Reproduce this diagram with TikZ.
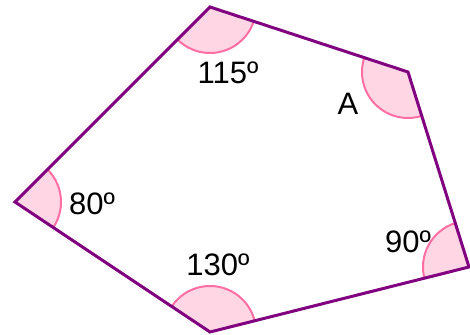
\documentclass[tikz,border=0pt]{standalone}
\usepackage{fontspec}
\setmainfont{Liberation Sans}
\definecolor{EdgePurple}{HTML}{800080}
\definecolor{AnglePink}{HTML}{FFD6E4}
\definecolor{ArcPink}{HTML}{FF6FA3}
\begin{document}
\begin{tikzpicture}[x=0.5pt, y=-0.5pt,
    edge/.style={draw=EdgePurple, line width=1.5pt, line join=miter},
    wedge/.style={fill=AnglePink, draw=ArcPink, line width=1pt},
    lbl/.style={font=\fontsize{15.5}{18}\selectfont, inner sep=0pt}
]
\useasboundingbox (0,0) rectangle (470,335);
\coordinate (top) at (210,7);
\coordinate (rtop) at (408,72);
\coordinate (rbot) at (469,267);
\coordinate (bot) at (210,332);
\coordinate (left) at (15,202);
\begin{scope}
\clip (top) -- (rtop) -- (rbot) -- (bot) -- (left) -- cycle;
\foreach \v in {top,rtop,rbot,bot,left}
    \path[wedge] (\v) circle [radius=46];
\end{scope}
\draw[edge] (top) -- (rtop) -- (rbot) -- (bot) -- (left) -- cycle;
\node[lbl] (atop) at (228,73) {115º};
\node[lbl] (artop) at (348,104) {A};
\node[lbl] (arbot) at (408,242) {90º};
\node[lbl] (abot) at (218,265) {130º};
\node[lbl] (aleft) at (92,204) {80º};
\end{tikzpicture}
\end{document}
